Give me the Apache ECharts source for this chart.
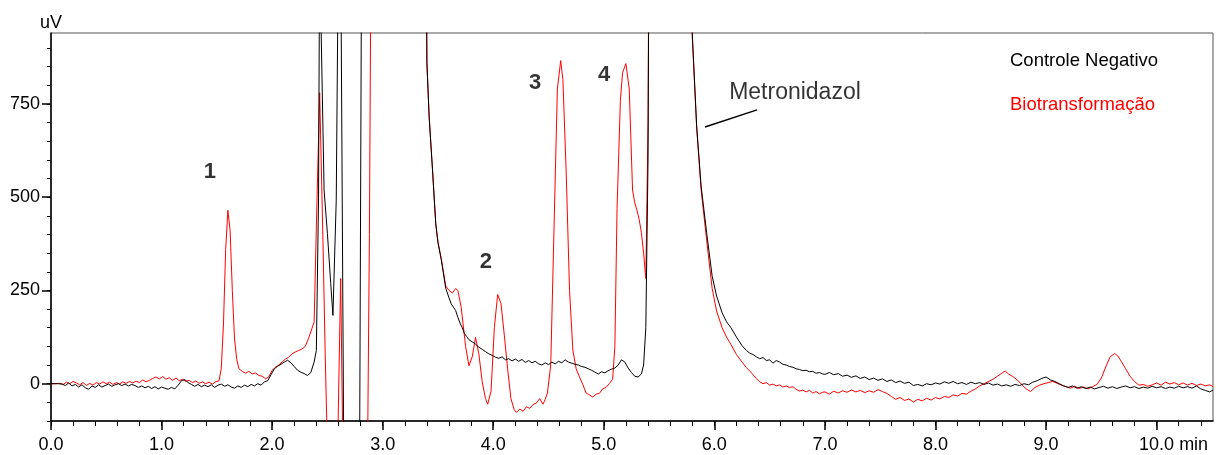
<!DOCTYPE html>
<html><head><meta charset="utf-8">
<script src="https://cdn.jsdelivr.net/npm/echarts@6/dist/echarts.min.js"></script>
<style>html,body{margin:0;padding:0;background:#fff}#c{width:1219px;height:455px}</style>
</head><body><div id="c"></div>
<script>
const FONT = "'Liberation Sans', Arial, sans-serif";
const xMajorTicks = [0,1,2,3,4,5,6,7,8,9,10];
const yMajorTicks = [0,250,500,750];
const seriesNames = ['Controle Negativo', 'Biotransformação'];

const biotransformacao = [
[0,0],[0.04,0],[0.08,1],[0.11,-2],[0.14,4],[0.17,0],[0.2,6],[0.23,2],[0.26,-3],[0.29,3],[0.32,-5],[0.35,1],[0.38,-4],[0.41,3],[0.44,-1],[0.47,5],[0.5,0],[0.53,4],[0.56,-2],[0.59,3],[0.62,-1],[0.65,5],[0.68,1],[0.71,6],[0.74,2],[0.77,7],[0.8,3],[0.83,10],[0.86,5],[0.89,9],[0.92,14],[0.95,18],[0.98,13],[1.01,19],[1.04,12],[1.07,16],[1.1,9],[1.13,15],[1.16,8],[1.19,12],[1.22,6],[1.25,9],[1.28,3],[1.31,7],[1.34,1],[1.37,5],[1.4,0],[1.43,4],[1.46,-1],[1.49,5],[1.52,8],[1.54,40],[1.56,160],[1.58,360],[1.6,465],[1.62,410],[1.64,250],[1.66,120],[1.68,65],[1.7,40],[1.73,33],[1.76,28],[1.79,33],[1.82,26],[1.85,29],[1.88,22],[1.91,20],[1.94,13],[1.97,18],[2,36],[2.03,44],[2.06,50],[2.09,58],[2.12,66],[2.15,71],[2.18,80],[2.21,85],[2.24,89],[2.27,93],[2.3,100],[2.33,122],[2.36,148],[2.38,165],[2.4,420],[2.43,780],[2.46,380],[2.48,80],[2.51,-300],[2.585,-300],[2.62,282],[2.645,-300],[2.86,-300],[2.88,400],[2.91,2000],[3.37,2000],[3.4,860],[3.42,720],[3.45,575],[3.48,430],[3.5,380],[3.53,335],[3.57,262],[3.6,250],[3.63,243],[3.66,255],[3.68,250],[3.71,205],[3.75,100],[3.78,48],[3.81,72],[3.84,124],[3.87,80],[3.9,5],[3.93,-40],[3.95,-55],[3.98,-20],[4.01,150],[4.04,239],[4.07,215],[4.1,130],[4.13,40],[4.16,-40],[4.19,-70],[4.21,-77],[4.24,-68],[4.27,-74],[4.3,-62],[4.33,-66],[4.36,-56],[4.39,-52],[4.42,-40],[4.45,-55],[4.47,-42],[4.49,-25],[4.52,50],[4.55,420],[4.58,790],[4.61,866],[4.63,815],[4.66,565],[4.69,250],[4.72,90],[4.75,40],[4.78,18],[4.81,-2],[4.84,-25],[4.87,-30],[4.9,-36],[4.93,-28],[4.96,-26],[4.99,-14],[5.02,-10],[5.05,0],[5.08,12],[5.1,100],[5.12,470],[5.15,760],[5.17,834],[5.2,858],[5.23,790],[5.26,519],[5.28,485],[5.3,465],[5.32,440],[5.34,405],[5.36,350],[5.38,282],[5.4,700],[5.42,2000],[5.76,2000],[5.8,930],[5.84,685],[5.88,520],[5.93,385],[5.98,255],[6.02,195],[6.07,150],[6.11,125],[6.15,105],[6.2,78],[6.25,58],[6.29,43],[6.32,34],[6.35,24],[6.38,14],[6.41,5],[6.44,0],[6.47,3],[6.5,-4],[6.53,-1],[6.56,-6],[6.59,-3],[6.62,-9],[6.65,-6],[6.68,-10],[6.71,-8],[6.74,-15],[6.77,-20],[6.8,-17],[6.83,-22],[6.86,-18],[6.89,-25],[6.92,-21],[6.95,-27],[6.98,-23],[7,-22],[7.04,-28],[7.08,-20],[7.12,-25],[7.16,-19],[7.2,-23],[7.24,-17],[7.28,-22],[7.32,-18],[7.36,-24],[7.4,-19],[7.44,-23],[7.48,-16],[7.52,-21],[7.56,-26],[7.6,-34],[7.64,-42],[7.68,-37],[7.72,-45],[7.76,-41],[7.8,-49],[7.84,-42],[7.88,-46],[7.92,-39],[7.96,-44],[8,-37],[8.04,-41],[8.08,-34],[8.12,-37],[8.16,-30],[8.2,-33],[8.24,-26],[8.28,-28],[8.32,-20],[8.36,-14],[8.4,-6],[8.44,0],[8.48,6],[8.52,12],[8.56,20],[8.6,28],[8.63,34],[8.66,26],[8.7,19],[8.74,10],[8.78,-2],[8.82,-14],[8.86,-21],[8.9,-10],[8.94,-4],[8.98,0],[9.02,3],[9.06,6],[9.1,1],[9.14,-4],[9.18,-8],[9.22,-12],[9.26,-7],[9.3,-13],[9.34,-9],[9.38,-14],[9.42,-8],[9.46,-2],[9.5,15],[9.54,45],[9.58,72],[9.62,81],[9.65,74],[9.68,60],[9.72,40],[9.76,20],[9.8,6],[9.84,-4],[9.88,-2],[9.92,-7],[9.96,-3],[10,2],[10.04,-4],[10.08,4],[10.12,-1],[10.16,3],[10.2,-3],[10.24,2],[10.28,-4],[10.32,1],[10.36,-5],[10.4,-1],[10.44,-6],[10.48,-3],[10.51,-8]
];

const controleNegativo = [
[0,0],[0.06,0],[0.1,-1],[0.13,-5],[0.16,2],[0.19,-6],[0.22,-2],[0.25,-9],[0.28,-3],[0.31,-11],[0.34,-15],[0.37,-6],[0.4,-10],[0.43,-3],[0.46,-9],[0.49,-5],[0.52,-1],[0.55,-7],[0.58,-3],[0.61,0],[0.64,-5],[0.67,-1],[0.7,-6],[0.73,-2],[0.76,-5],[0.79,-10],[0.82,-6],[0.85,-11],[0.88,-7],[0.91,-13],[0.94,-8],[0.97,-14],[1,-9],[1.03,-12],[1.06,-15],[1.09,-10],[1.12,-14],[1.15,-4],[1.18,8],[1.21,11],[1.24,3],[1.27,-2],[1.3,-7],[1.33,-2],[1.36,-8],[1.39,-4],[1.42,-8],[1.45,-3],[1.48,-10],[1.51,-4],[1.54,-1],[1.57,-7],[1.6,-3],[1.63,-9],[1.66,-12],[1.69,-6],[1.72,-10],[1.75,-4],[1.78,-8],[1.81,-2],[1.84,-6],[1.87,0],[1.9,-4],[1.93,5],[1.96,8],[1.99,24],[2.02,40],[2.05,47],[2.08,52],[2.11,58],[2.14,63],[2.17,56],[2.2,46],[2.23,36],[2.26,31],[2.29,27],[2.32,22],[2.35,30],[2.38,58],[2.4,89],[2.42,500],[2.43,1200],[2.44,1000],[2.47,519],[2.5,403],[2.53,269],[2.55,183],[2.58,492],[2.6,1200],[2.62,1200],[2.65,-300],[2.79,-300],[2.82,2000],[3.38,2000],[3.4,860],[3.42,715],[3.45,578],[3.48,428],[3.5,378],[3.53,332],[3.57,256],[3.6,230],[3.62,214],[3.64,205],[3.66,196],[3.68,178],[3.7,162],[3.72,150],[3.74,134],[3.76,126],[3.78,118],[3.81,112],[3.84,106],[3.87,98],[3.9,92],[3.93,86],[3.96,80],[3.99,76],[4.02,71],[4.05,68],[4.08,72],[4.11,64],[4.14,67],[4.17,61],[4.2,66],[4.23,60],[4.26,65],[4.29,57],[4.32,62],[4.35,56],[4.38,60],[4.41,53],[4.44,50],[4.47,56],[4.5,51],[4.53,58],[4.56,53],[4.59,60],[4.62,56],[4.65,64],[4.68,58],[4.71,55],[4.74,52],[4.77,50],[4.8,46],[4.83,44],[4.86,40],[4.89,36],[4.92,31],[4.95,26],[4.98,32],[5.01,29],[5.04,35],[5.07,39],[5.1,42],[5.13,50],[5.16,64],[5.19,58],[5.22,42],[5.25,30],[5.28,20],[5.31,18],[5.34,26],[5.36,50],[5.38,150],[5.4,600],[5.42,2000],[5.77,2000],[5.8,940],[5.84,690],[5.88,530],[5.93,405],[5.98,288],[6.02,235],[6.07,190],[6.11,166],[6.15,150],[6.2,125],[6.25,102],[6.29,89],[6.32,82],[6.35,78],[6.38,72],[6.41,67],[6.44,70],[6.47,62],[6.5,64],[6.53,55],[6.56,62],[6.59,58],[6.62,52],[6.65,50],[6.68,46],[6.71,44],[6.74,40],[6.77,38],[6.8,35],[6.83,36],[6.86,32],[6.89,33],[6.92,28],[6.95,30],[6.98,26],[7,25],[7.04,30],[7.08,24],[7.12,27],[7.16,20],[7.2,23],[7.24,17],[7.28,21],[7.32,14],[7.36,18],[7.4,11],[7.44,15],[7.48,9],[7.52,13],[7.56,6],[7.6,10],[7.64,3],[7.68,7],[7.72,1],[7.76,4],[7.8,-5],[7.84,-2],[7.88,-6],[7.92,0],[7.96,-3],[8,2],[8.04,-1],[8.08,5],[8.12,1],[8.16,6],[8.2,0],[8.24,3],[8.28,-2],[8.32,4],[8.36,0],[8.4,3],[8.44,-2],[8.48,2],[8.52,-4],[8.56,-1],[8.6,-6],[8.64,-3],[8.68,-7],[8.72,-2],[8.76,-5],[8.8,0],[8.84,-3],[8.88,4],[8.92,8],[8.96,14],[9,18],[9.04,10],[9.08,6],[9.12,0],[9.16,-6],[9.2,-10],[9.24,-6],[9.28,-12],[9.32,-8],[9.36,-13],[9.4,-9],[9.44,-14],[9.48,-10],[9.52,-7],[9.56,-12],[9.6,-8],[9.64,-13],[9.68,-9],[9.72,-6],[9.76,-11],[9.8,-8],[9.84,-13],[9.88,-9],[9.92,-12],[9.96,-7],[10,-11],[10.04,-8],[10.08,-13],[10.12,-9],[10.16,-12],[10.2,-7],[10.24,-11],[10.28,-8],[10.32,-12],[10.36,-6],[10.4,-14],[10.44,-18],[10.48,-22],[10.51,-17]
];

const peakLabels = [
  {name:'1', value:[1.438, 567]},
  {name:'2', value:[3.934, 326]},
  {name:'3', value:[4.378, 806]},
  {name:'4', value:[5.002, 827]}
];
const metronidazolLabel = [{name:'Metronidazol', value:[6.729, 779]}];
const metronidazolPointer = [[5.915, 688], [6.386, 734]];

const xMinorTicks = [];
for (let i = 0; i <= 52; i++) xMinorTicks.push(Math.round(i * 2) / 10);
const yMinorTicks = [];
for (let v = -100; v <= 900; v += 50) yMinorTicks.push(v);

const chart = echarts.init(document.getElementById('c'), null, {renderer: 'canvas'});
const axisColor = '#000';
chart.setOption({
  animation: false,
  backgroundColor: '#fff',
  textStyle: {fontFamily: FONT},
  grid: {left: 51, right: 6, top: 33, bottom: 34, show: true, borderColor: '#555', borderWidth: 1},
  legend: {
    orient: 'vertical', left: 1000, top: 46, itemWidth: 0, itemHeight: 0, itemGap: 25,
    selectedMode: false, icon: 'rect',
    textStyle: {fontSize: 18.5, fontFamily: FONT},
    data: [
      {name: seriesNames[0], textStyle: {color: '#000'}},
      {name: seriesNames[1], textStyle: {color: '#ff0000'}}
    ]
  },
  xAxis: [
    {type: 'value', min: 0, max: 10.51, position: 'bottom',
     axisLine: {show: true, onZero: false, lineStyle: {color: axisColor, width: 1.5}},
     axisTick: {show: true, customValues: xMajorTicks, length: 9, lineStyle: {color: axisColor, width: 1.5}},
     axisLabel: {customValues: xMajorTicks, fontSize: 18, color: '#000', margin: 15, fontFamily: FONT,
       formatter: v => v === 10 ? '{p|}10.0 min' : v.toFixed(1),
       rich: {p: {width: 34}}},
     splitLine: {show: false}},
    {type: 'value', min: 0, max: 10.51, position: 'bottom',
     axisLine: {show: false, onZero: false},
     axisTick: {show: true, customValues: xMinorTicks, length: 5, lineStyle: {color: axisColor, width: 1}},
     axisLabel: {show: false}, splitLine: {show: false}}
  ],
  yAxis: [
    {type: 'value', min: -100, max: 940, position: 'left', name: 'uV', nameLocation: 'end', nameGap: 1,
     nameTextStyle: {fontSize: 18, color: '#000', fontFamily: FONT, align: 'center'},
     axisLine: {show: true, onZero: false, lineStyle: {color: axisColor, width: 1.5}},
     axisTick: {show: true, customValues: yMajorTicks, length: 9, lineStyle: {color: axisColor, width: 1.5}},
     axisLabel: {customValues: yMajorTicks, fontSize: 18, color: '#000', margin: 11, fontFamily: FONT},
     splitLine: {show: false}},
    {type: 'value', min: -100, max: 940, position: 'left',
     axisLine: {show: false, onZero: false},
     axisTick: {show: true, customValues: yMinorTicks, length: 4, lineStyle: {color: axisColor, width: 1}},
     axisLabel: {show: false}, splitLine: {show: false}}
  ],
  series: [
    {name: seriesNames[1], type: 'line', data: biotransformacao, showSymbol: false, symbol: 'none',
     lineStyle: {color: '#ff0000', width: 1}, itemStyle: {color: '#ff0000'}, z: 2, clip: true},
    {name: seriesNames[0], type: 'line', data: controleNegativo, showSymbol: false, symbol: 'none',
     lineStyle: {color: '#000', width: 1}, itemStyle: {color: '#000'}, z: 3, clip: true},
    {name: 'pointer', type: 'line', data: metronidazolPointer, showSymbol: false, symbol: 'none',
     lineStyle: {color: '#000', width: 1.5}, z: 4, silent: true},
    {name: 'peaks', type: 'scatter', data: peakLabels, symbolSize: 0, silent: true, z: 5,
     label: {show: true, position: 'inside', formatter: '{b}', fontSize: 22, fontWeight: 'bold', color: '#000', fontFamily: FONT}},
    {name: 'metro', type: 'scatter', data: metronidazolLabel, symbolSize: 0, silent: true, z: 5,
     label: {show: true, position: 'inside', formatter: '{b}', fontSize: 23, color: '#000', fontFamily: FONT}}
  ]
});
</script></body></html>
